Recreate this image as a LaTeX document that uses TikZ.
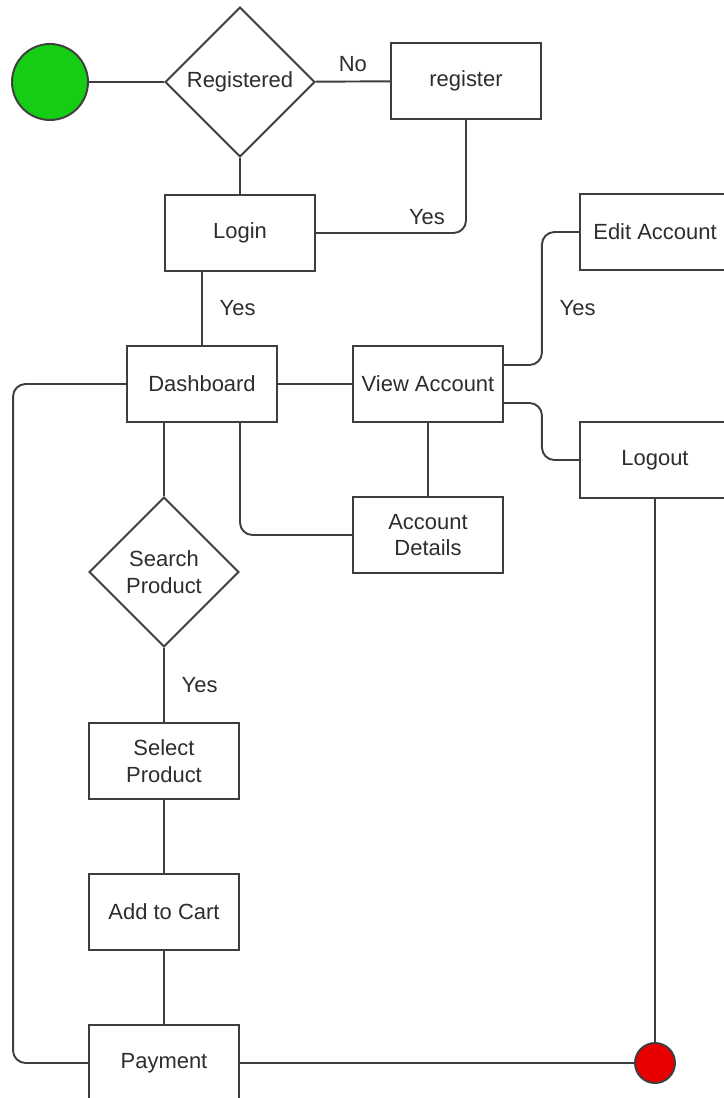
\documentclass[tikz,border=0pt]{standalone}
\usepackage{fontspec}
\setmainfont{Liberation Sans}
\usepackage{tikz}
\usetikzlibrary{shapes.geometric,positioning}

\definecolor{startgreen}{RGB}{20,205,20}
\definecolor{stopred}{RGB}{232,0,0}
\definecolor{linegray}{RGB}{62,62,62}
\definecolor{textgray}{RGB}{45,45,45}

\tikzset{
  flowfont/.style={font=\fontsize{12.5}{15}\selectfont, text=textgray},
  box/.style={draw=linegray, line width=1.1pt, fill=white, minimum width=3cm, minimum height=1.52cm, inner sep=2pt, align=center, flowfont},
  decision/.style={draw=linegray, line width=1.1pt, fill=white, diamond, minimum width=3cm, minimum height=3cm, inner sep=0pt, align=center, flowfont},
  terminal/.style={draw=linegray, line width=1.1pt, circle, inner sep=0pt},
  link/.style={draw=linegray, line width=1.1pt, rounded corners=0.25cm},
  answer/.style={flowfont, inner sep=1pt}
}

\begin{document}
\begin{tikzpicture}[x=0.02cm, y=-0.02cm]
        \useasboundingbox (0,0) rectangle (723,1098);

        % Draw start and end
        \node[terminal, fill=startgreen, minimum size=1.52cm] (start) at (50,82) {};
        \node[terminal, fill=stopred, minimum size=0.8cm] (stop) at (655,1063) {};

        % Draw decisions
        \node[decision] (registered) at (240,82) {Registered};
        \node[decision] (search) at (164,572) {Search\\Product};

        % Draw steps
        \node[box] (register) at (466,81) {register};
        \node[box] (login) at (240,233) {Login};
        \node[box] (editacc) at (655,232) {Edit Account};
        \node[box] (dash) at (202,384) {Dashboard};
        \node[box] (viewacc) at (428,384) {View Account};
        \node[box] (logout) at (655,460) {Logout};
        \node[box] (details) at (428,535) {Account\\Details};
        \node[box] (select) at (164,761) {Select\\Product};
        \node[box] (cart) at (164,912) {Add to Cart};
        \node[box] (pay) at (164,1063) {Payment};

        % Draw connectors
        \draw[link] (start) -- (registered);
        \draw[link] (registered) -- node[answer, above=0.14cm] {No} (register);
        \draw[link] (registered) -- (login);
        \draw[link] (register.south) |- node[answer, pos=0.63, above=0.12cm] {Yes} (login.east);
        \draw[link] (dash.north) -- node[answer, right=0.3cm] {Yes} (dash.north |- login.south);
        \draw[link] (dash) -- (viewacc);
        \draw[link] ([yshift=0.38cm]viewacc.east) -- ++(38,0) -- node[answer, right=0.3cm, pos=0.43] {Yes} ++(0,-133) -- (editacc.west);
        \draw[link] ([yshift=-0.38cm]viewacc.east) -- ++(38,0) |- (logout.west);
        \draw[link] (viewacc) -- (details);
        \draw[link] ([xshift=0.76cm]dash.south) |- (details.west);
        \draw[link] (search.north) -- (search.north |- dash.south);
        \draw[link] (search) -- node[answer, right=0.3cm] {Yes} (select);
        \draw[link] (select) -- (cart);
        \draw[link] (cart) -- (pay);
        \draw[link] (pay) -- (stop);
        \draw[link] (logout) -- (stop);
        \draw[link] (dash.west) -- ++(-113,0) |- (pay.west);
\end{tikzpicture}
\end{document}
